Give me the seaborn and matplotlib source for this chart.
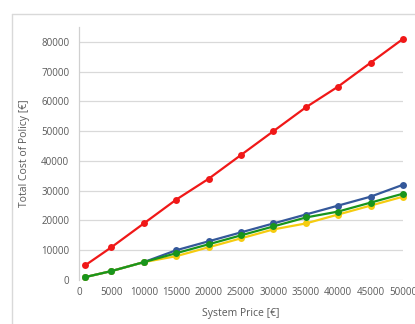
import matplotlib
matplotlib.use("Agg")
import matplotlib.pyplot as plt
from matplotlib.lines import Line2D
import pandas as pd
import seaborn as sns

# System price (x) and total cost of policy for each scheme
system_price = [1000, 5000, 10000, 15000, 20000, 25000, 30000, 35000, 40000, 45000, 50000]
cost_red = [5000, 11000, 19000, 27000, 34000, 42000, 50000, 58000, 65000, 73000, 81000]
cost_blue = [1000, 3000, 6000, 10000, 13000, 16000, 19000, 22000, 25000, 28000, 32000]
cost_yellow = [1000, 3000, 6000, 8000, 11000, 14000, 17000, 19000, 22000, 25000, 28000]
cost_green = [1000, 3000, 6000, 9000, 12000, 15000, 18000, 21000, 23000, 26000, 29000]

x_ticks = [0, 5000, 10000, 15000, 20000, 25000, 30000, 35000, 40000, 45000, 50000]
y_ticks = [0, 10000, 20000, 30000, 40000, 50000, 60000, 70000, 80000]

series = {"red": cost_red, "blue": cost_blue, "yellow": cost_yellow, "green": cost_green}
colors = {"red": "#f01818", "blue": "#34589a", "yellow": "#f5cc10", "green": "#18951c"}

df = pd.concat(
    [pd.DataFrame({"price": system_price, "cost": v, "scheme": k}) for k, v in series.items()],
    ignore_index=True,
)

sns.set_style("white")
plt.rcParams["font.family"] = ["Open Sans", "DejaVu Sans"]

fig = plt.figure(figsize=(4.15, 3.24), dpi=100)
ax = fig.add_axes([79 / 415, 1 - 280 / 324, (403 - 79) / 415, (280 - 27) / 324])

sns.lineplot(
    data=df, x="price", y="cost", hue="scheme", palette=colors,
    marker="o", markersize=5, markeredgewidth=0, linewidth=1.6,
    legend=False, ax=ax, clip_on=False, zorder=3,
)

ax.set_xlim(0, 50000)
ax.set_ylim(0, 85000)
ax.set_xticks(x_ticks)
ax.set_yticks(y_ticks)
ax.set_xticklabels([str(t) for t in x_ticks])
ax.set_yticklabels([str(t) for t in y_ticks])
ax.tick_params(axis="both", length=0, labelsize=7, colors="#595959")
ax.tick_params(axis="y", pad=7)
ax.tick_params(axis="x", pad=5)

ax.grid(axis="y", color="#d9d9d9", linewidth=0.9)
ax.grid(axis="x", visible=False)
ax.set_axisbelow(True)
for side in ["top", "right", "bottom"]:
    ax.spines[side].set_visible(False)
ax.spines["left"].set_color("#d0d0d0")
ax.spines["left"].set_linewidth(0.9)

ax.set_xlabel("System Price [€]", fontsize=7.5, color="#595959", labelpad=7)
ax.set_ylabel("Total Cost of Policy [€]", fontsize=7.5, color="#595959", labelpad=8)

# outer chart frame
fig.add_artist(Line2D([12 / 415, 12 / 415], [0, 1 - 14 / 324], color="#d9d9d9", linewidth=1.0))
fig.add_artist(Line2D([12 / 415, 1], [1 - 14 / 324, 1 - 14 / 324], color="#d9d9d9", linewidth=1.0))

fig.savefig("out.png", dpi=100, facecolor="white")
